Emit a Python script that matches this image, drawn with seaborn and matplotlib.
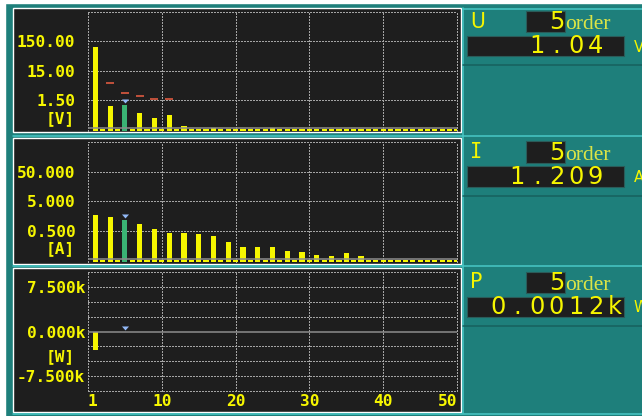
import matplotlib
matplotlib.use("Agg")
import matplotlib.pyplot as plt
from matplotlib.patches import Rectangle
from matplotlib.lines import Line2D
from matplotlib.transforms import ScaledTranslation
from matplotlib.ticker import NullLocator, NullFormatter
import pandas as pd
import seaborn as sns

# ---------------- data ----------------
ORDERS = list(range(1, 51))
SELECTED = 5

U_VALUES = [94, 0.15, 0.94, 0.15, 1.04, 0.15, 0.53, 0.15, 0.36, 0.15,
            0.46, 0.15, 0.20, 0.15, 0.15, 0.15, 0.17, 0.15, 0.15, 0.15,
            0.15, 0.15, 0.15, 0.15, 0.17, 0.15, 0.15, 0.15, 0.15, 0.15,
            0.15, 0.15, 0.15, 0.15, 0.15, 0.15, 0.15, 0.15, 0.15, 0.15,
            0.15, 0.15, 0.15, 0.15, 0.15, 0.15, 0.15, 0.15, 0.15, 0.15]
U_LIMIT_ORDERS = [3, 5, 7, 9, 11]
U_LIMITS = [5.6, 2.6, 2.05, 1.58, 1.58]

I_VALUES = [1.70, 0.052, 1.52, 0.052, 1.209, 0.052, 0.86, 0.052, 0.58, 0.052,
            0.44, 0.052, 0.44, 0.052, 0.40, 0.052, 0.33, 0.052, 0.21, 0.052,
            0.14, 0.052, 0.14, 0.052, 0.14, 0.052, 0.103, 0.052, 0.095, 0.052,
            0.077, 0.052, 0.071, 0.052, 0.088, 0.052, 0.071, 0.052, 0.052, 0.052,
            0.052, 0.052, 0.052, 0.052, 0.052, 0.052, 0.052, 0.052, 0.052, 0.052]

P_VALUES = [-3150, 0, 0, 0, 1.2, 0, 0, 0, 0, 0,
            0, 0, 0, 0, 0, 0, 0, 0, 0, 0,
            0, 0, 0, 0, 0, 0, 0, 0, 0, 0,
            0, 0, 0, 0, 0, 0, 0, 0, 0, 0,
            0, 0, 0, 0, 0, 0, 0, 0, 0, 0]

U_TICKS = [150, 15, 1.5]
U_TICK_LABELS = ["150.00", "15.00", "1.50"]
U_GRID = [1500, 150, 15, 1.5]
I_TICKS = [50, 5, 0.5]
I_TICK_LABELS = ["50.000", "5.000", "0.500"]
I_GRID = [500, 50, 5, 0.5]
P_TICKS = [7500, 0, -7500]
P_TICK_LABELS = ["7.500k", "0.000k", "-7.500k"]
P_GRID = [10000, 7500, 5000, 2500, -2500, -5000, -7500, -10000]
X_GRID = [0, 10, 20, 30, 40, 50]
X_TICK_LABELS = ["1", "10", "20", "30", "40", "50"]

READOUTS = [("U", "1.04 ", "V"), ("I", "1.209 ", "A"), ("P", "0.0012k", "W")]

# ---------------- style ----------------
TEAL = "#1e7f7b"
CYAN = "#48c8c6"
DARK_LINE = "#17605d"
PANEL = "#1e1e1e"
GRID = "#a4a4a4"
BASE = "#8c8c8c"
YELLOW = "#f6f600"
GREEN = "#3ab474"
RED = "#dc5a40"
BLUE = "#92b8f6"
PALE = "#dce446"

W, H = 642, 416
sns.set_style("dark")
plt.rcParams["font.family"] = ["DejaVu Sans Mono", "DejaVu Sans"]
plt.rcParams["font.weight"] = "bold"

fig = plt.figure(figsize=(W / 100, H / 100), dpi=100)
fig.patch.set_facecolor(TEAL)


def fx(x):
    return x / W


def fy(y):
    return 1 - y / H


def rect(x0, y0, x1, y1, color, z=-10, **kw):
    fig.add_artist(Rectangle((fx(x0), fy(y1)), (x1 - x0) / W, (y1 - y0) / H,
                             transform=fig.transFigure, facecolor=color,
                             zorder=z, **kw))


def fline(xs, ys, color, lw=1.0, z=-5):
    fig.add_artist(Line2D([fx(x) for x in xs], [fy(y) for y in ys],
                          transform=fig.transFigure, color=color, lw=lw,
                          zorder=z))


# frame of the instrument screen
rect(0, 0, W, 3, "white", z=-9)
rect(0, 0, 5, H, "white", z=-9)
rect(13, 8, 461, 132, PANEL)
rect(13, 138, 461, 263.5, PANEL)
rect(13, 268, 461, 412, PANEL)
for y in (135.5, 266, 413.5):
    fline([13, W], [y, y], CYAN, lw=1.1)
fline([462.5, 462.5], [8, 413], CYAN, lw=1.1)
fline([462.5, W], [8.5, 8.5], CYAN, lw=1.1)
for y in (64.5, 195.5, 325.5):
    fline([463, W], [y, y], DARK_LINE, lw=1.1)


def make_axes(top, bottom):
    return fig.add_axes([fx(88), fy(bottom), (457 - 88) / W, (bottom - top) / H])


ax_u = make_axes(12, 131)
ax_i = make_axes(142.3, 261.5)
ax_p = make_axes(272.3, 391)

dot = (0, (2.0, 1.6))


def prepare(ax, log, ylim, grid_y, base_y):
    ax.set_facecolor("none")
    if log:
        ax.set_yscale("log")
    for s in ax.spines.values():
        s.set_visible(False)
    for x in X_GRID:
        ax.axvline(x, color=GRID, lw=0.72, ls=dot, zorder=0.5, clip_on=False,
                   antialiased=False)
    for y in grid_y:
        ax.axhline(y, color=GRID, lw=0.72, ls=dot, zorder=0.5, clip_on=False,
                   antialiased=False)
    ax.axhline(base_y, color=BASE, lw=1.1, zorder=2.5)
    ax.set_ylim(*ylim)


prepare(ax_u, True, (0.1316, 1500), U_GRID, 0.163)
prepare(ax_i, True, (0.0466, 500), I_GRID, 0.057)
prepare(ax_p, False, (-10000, 10000), P_GRID, 0)

palette = {"other": YELLOW, "selected": GREEN}
for ax, values in ((ax_u, U_VALUES), (ax_i, I_VALUES), (ax_p, P_VALUES)):
    df = pd.DataFrame({
        "order": ORDERS,
        "value": values,
        "kind": ["selected" if o == SELECTED else "other" for o in ORDERS],
    })
    sns.barplot(data=df, x="order", y="value", hue="kind", palette=palette,
                native_scale=True, dodge=False, width=0.7, saturation=1,
                legend=False, linewidth=0, ax=ax, zorder=2)

# limit marks on the voltage spectrum
ax_u.hlines(U_LIMITS, [o - 0.55 for o in U_LIMIT_ORDERS],
            [o + 0.55 for o in U_LIMIT_ORDERS], colors=RED, lw=1.2, zorder=3)

# cursor triangles above the selected order
tri = [(-3.5, 4), (3.5, 4), (0, 0)]
lift = ScaledTranslation(0, 0.02, fig.dpi_scale_trans)
for ax, values in ((ax_u, U_VALUES), (ax_i, I_VALUES), (ax_p, P_VALUES)):
    val = values[ORDERS.index(SELECTED)]
    ax.plot([SELECTED], [val], marker=tri, ms=5.8, color=BLUE, mew=0,
            ls="none", transform=ax.transData + lift, clip_on=False, zorder=4)

# axes ticks and labels
tick_font = dict(family="DejaVu Sans Mono", weight="bold", size=11.6)
for ax, ticks, labels, pad in ((ax_u, U_TICKS, U_TICK_LABELS, 9),
                               (ax_i, I_TICKS, I_TICK_LABELS, 9),
                               (ax_p, P_TICKS, P_TICK_LABELS, 2)):
    ax.set_xlim(0, 50)
    ax.set_xlabel("")
    ax.set_ylabel("")
    ax.yaxis.set_minor_locator(NullLocator())
    ax.yaxis.set_minor_formatter(NullFormatter())
    ax.set_yticks(ticks, labels=labels)
    ax.tick_params(axis="y", length=0, pad=pad, labelcolor=YELLOW)
    for lab in ax.get_yticklabels():
        lab.set_fontproperties(tick_font)
    if ax is ax_p:
        ax.set_xticks(X_GRID, labels=X_TICK_LABELS)
        ax.tick_params(axis="x", length=0, pad=2.5, labelcolor=YELLOW)
        xl = ax.get_xticklabels()
        for lab in xl:
            lab.set_fontproperties(tick_font)
        xl[0].set_ha("left")
        xl[-1].set_ha("right")
    else:
        ax.set_xticks([])

for unit, y in (("[V]", 119), ("[A]", 249), ("[W]", 357)):
    fig.text(fx(75), fy(y), unit, ha="right", va="center", color=YELLOW,
             fontproperties=tick_font)

# readout blocks on the right
num_font = dict(family="DejaVu Sans", weight="normal", size=17.4)
box_tops = [8, 138.5, 268.5]
for (name, value, unit), top in zip(READOUTS, box_tops):
    off = top - 8
    rect(526, 11 + off, 565, 32 + off, PANEL, z=-4, edgecolor="#2b5b59", lw=0.8)
    rect(467, 36 + off, 624, 56 + off, PANEL, z=-4, edgecolor="#2b5b59", lw=0.8)
    fam = "DejaVu Sans Mono" if name == "I" else "DejaVu Sans"
    fig.text(fx(470), fy(28 + off), name, ha="left", va="baseline",
             color=YELLOW, family=fam, weight="normal", size=14.8)
    fig.text(fx(556.5), fy(29.3 + off), str(SELECTED), ha="center",
             va="baseline", color=YELLOW, **num_font)
    fig.text(fx(565), fy(29.3 + off), "order", ha="left", va="baseline",
             color=PALE, family="Liberation Serif", weight="normal", size=15.5)
    # fixed-pitch value field, last cell holds the unit prefix
    for k, ch in enumerate(reversed(value)):
        if ch == " ":
            continue
        fig.text(fx(615 - 19.5 * k), fy(53.3 + off), ch, ha="center",
                 va="baseline", color=YELLOW, **num_font)
    # unit letters sit at the right border of the screen
    fig.text(fx(634), fy(51.7 + off), unit, ha="left", va="baseline",
             color=YELLOW, family="DejaVu Sans", weight="normal", size=10.5)

fig.savefig("out.png", dpi=100, facecolor=fig.get_facecolor())
